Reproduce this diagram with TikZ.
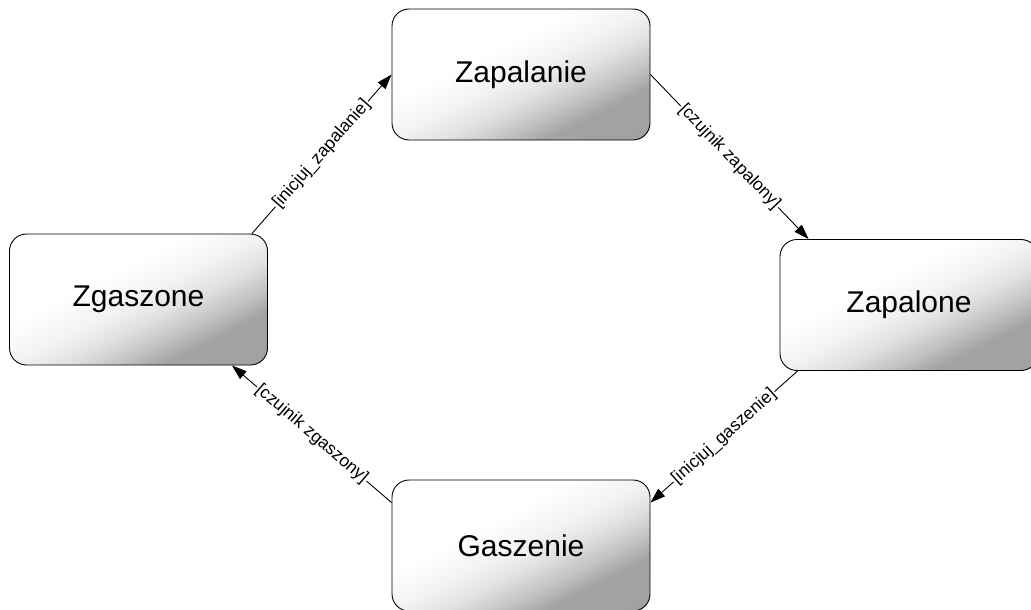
\documentclass[tikz,border=0pt]{standalone}
\usepackage{fontspec}
\setmainfont{Liberation Sans}
\usetikzlibrary{arrows.meta}
% diagonal fill of the state boxes: white at one corner, grey at the opposite one
\pgfdeclareverticalshading{statefill}{100bp}{%
  color(0bp)=(black!38); color(30bp)=(black!36); color(36bp)=(black!24);
  color(43bp)=(black!12); color(50bp)=(black!5); color(60bp)=(white);
  color(100bp)=(white)}
\tikzset{
  state/.style={draw=black, line width=0.9pt, rounded corners=17pt,
    minimum width=258pt, minimum height=131pt, inner sep=0pt,
    shading=statefill, shading angle=27,
    font=\fontsize{30}{36}\selectfont},
  trans/.style={draw=black, line width=0.9pt,
    -{Triangle[length=15pt,width=10pt]}},
  guard/.style={fill=white, inner sep=1pt, sloped,
    font=\fontsize{17.5}{21}\selectfont}
}
\begin{document}
\begin{tikzpicture}[x=1pt,y=-1pt]
  \useasboundingbox (0,0) rectangle (1031,610);
  \clip (0,0) rectangle (1031,610);

  % states of the burner
  \node[state] (zapalanie) at (521,74.5)  {Zapalanie};
  \node[state] (zgaszone)  at (138.5,299.5) {Zgaszone};
  \node[state] (zapalone)  at (909,305)   {Zapalone};
  \node[state] (gaszenie)  at (521,545.5) {Gaszenie};

  % attachment points on the borders
  \coordinate (zg-out)  at ([xshift=-16pt]zgaszone.north east);
  \coordinate (zp-in)   at ([xshift=29pt]zapalone.north west);
  \coordinate (zp-out)  at ([xshift=18pt]zapalone.south west);
  \coordinate (gs-in)   at ([yshift=-23pt]gaszenie.north east);
  \coordinate (gs-out)  at ([yshift=-23pt]gaszenie.north west);
  \coordinate (zg-in)   at ([xshift=-36pt]zgaszone.south east);

  % transitions
  \draw[trans] (zg-out) -- node[guard] {[inicjuj\_zapalanie]} (zapalanie.west);
  \draw[trans] (zapalanie.east) -- node[guard] {[czujnik zapalony]} (zp-in);
  \draw[trans] (zp-out) -- node[guard] {[inicjuj\_gaszenie]} (gs-in);
  \draw[trans] (gs-out) -- node[guard] {[czujnik zgaszony]} (zg-in);
\end{tikzpicture}
\end{document}
